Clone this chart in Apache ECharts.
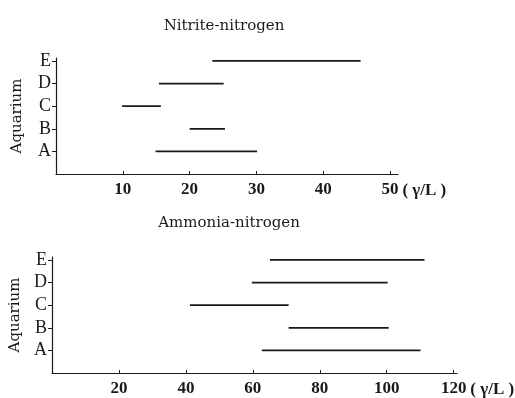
<!DOCTYPE html>
<html><head><meta charset="utf-8">
<script src="https://cdn.jsdelivr.net/npm/echarts@6/dist/echarts.min.js"></script>
<style>html,body{margin:0;padding:0;background:#fff}#c{width:515px;height:398px}</style>
</head><body><div id="c"></div>
<script>
var aquaria = ['A', 'B', 'C', 'D', 'E'];
var nitriteStart = [14.9, 20.0, 9.9, 15.4, 23.4];
var nitriteEnd = [30.1, 25.3, 15.7, 25.1, 45.6];
var ammoniaStart = [62.7, 70.7, 41.2, 59.7, 65.1];
var ammoniaEnd = [110.1, 100.6, 70.7, 100.3, 111.3];
var nitriteTicks = [10, 20, 30, 40, 50];
var ammoniaTicks = [20, 40, 60, 80, 100, 120];

function seg(s, e) { return aquaria.map(function (a, i) { return [s[i], e[i], i + 1]; }); }
var ink = '#1a1a1a';
var serif = 'Liberation Serif';
function render(params, api) {
  var p1 = api.coord([api.value(0), api.value(2)]);
  var p2 = api.coord([api.value(1), api.value(2)]);
  return { type: 'line', shape: { x1: p1[0], y1: p1[1], x2: p2[0], y2: p2[1] },
    style: { stroke: ink, lineWidth: 1.8 } };
}
function xAx(gi, max, ticks) {
  return { type: 'value', gridIndex: gi, min: 0, max: max,
    axisLine: { lineStyle: { color: ink, width: 1.2 } },
    axisTick: { inside: true, length: 3, customValues: ticks, lineStyle: { color: ink } },
    axisLabel: { customValues: ticks, color: ink, fontFamily: serif, fontSize: 17, fontWeight: 'bold', margin: 7 },
    splitLine: { show: false },
    name: '( γ/L )', nameLocation: 'end', nameGap: 0,
    nameTextStyle: { color: ink, fontFamily: serif, fontSize: 17, fontWeight: 'bold', align: 'left', verticalAlign: 'top', padding: [8, 0, 0, 0] } };
}
function yAx(gi, gap) {
  return { type: 'value', gridIndex: gi, min: 0, max: 5.13,
    axisLine: { show: true, lineStyle: { color: ink, width: 1.2 } },
    axisTick: { show: true, length: 4, customValues: [1, 2, 3, 4, 5], lineStyle: { color: ink } },
    axisLabel: { customValues: [1, 2, 3, 4, 5], color: ink, fontFamily: serif, fontSize: 18, margin: 5,
      formatter: function (v) { return aquaria[Math.round(v) - 1] || ''; } },
    splitLine: { show: false },
    name: 'Aquarium', nameLocation: 'middle', nameGap: gap, nameRotate: 90,
    nameTextStyle: { color: ink, fontFamily: 'DejaVu Serif', fontSize: 15 } };
}
var chart = echarts.init(document.getElementById('c'), null, { renderer: 'canvas' });
chart.setOption({
  animation: false,
  backgroundColor: '#fff',
  title: [
    { text: 'Nitrite-nitrogen', left: 219, top: 14, textAlign: 'center',
      textStyle: { color: ink, fontFamily: 'DejaVu Serif', fontSize: 15, fontWeight: 'normal' } },
    { text: 'Ammonia-nitrogen', left: 224, top: 211, textAlign: 'center',
      textStyle: { color: ink, fontFamily: 'DejaVu Serif', fontSize: 15, fontWeight: 'normal' } }
  ],
  grid: [
    { left: 56, right: 117, top: 58, bottom: 224, outerBoundsMode: 'none', containLabel: false },
    { left: 52, right: 58, top: 257, bottom: 25, outerBoundsMode: 'none', containLabel: false }
  ],
  xAxis: [xAx(0, 51.2, nitriteTicks), xAx(1, 121, ammoniaTicks)],
  yAxis: [yAx(0, 31), yAx(1, 29)],
  series: [
    { type: 'custom', xAxisIndex: 0, yAxisIndex: 0, renderItem: render, data: seg(nitriteStart, nitriteEnd), encode: { x: [0, 1], y: 2 } },
    { type: 'custom', xAxisIndex: 1, yAxisIndex: 1, renderItem: render, data: seg(ammoniaStart, ammoniaEnd), encode: { x: [0, 1], y: 2 } }
  ]
});
</script></body></html>
